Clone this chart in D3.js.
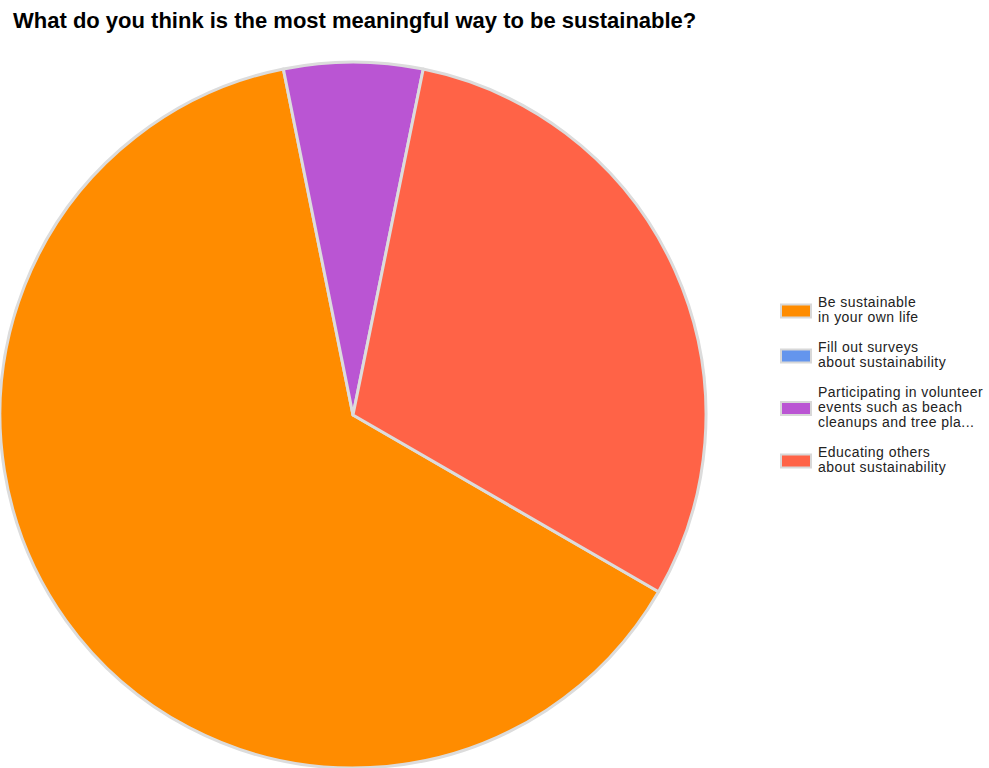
<!DOCTYPE html>
<html>
<head>
<meta charset="utf-8">
<script src="https://cdn.jsdelivr.net/npm/d3@7"></script>
<style>
  body { margin: 0; background: #fff; }
  svg { display: block; font-family: "Liberation Sans", Arial, sans-serif; }
</style>
</head>
<body>
<svg width="989" height="768"></svg>
<script>
var categories = [
  ["Be sustainable", "in your own life"],
  ["Fill out surveys", "about sustainability"],
  ["Participating in volunteer", "events such as beach", "cleanups and tree pla..."],
  ["Educating others", "about sustainability"]
];
var values = [40, 0, 4, 19];
var colors = ["#ff8c00", "#6495ed", "#ba55d3", "#ff6347"];
var title = "What do you think is the most meaningful way to be sustainable?";

var svg = d3.select("svg"),
  cx = 353, cy = 415, radius = 353;

svg.append("text")
  .attr("x", 13)
  .attr("y", 28)
  .attr("font-size", 22)
  .attr("font-weight", "bold")
  .attr("fill", "#000")
  .text(title);

var data = values.map(function(v, i) { return {label: categories[i], value: v, color: colors[i]}; });

// pie starts a bit past 4 o'clock, clockwise
var start = 120.05 * Math.PI / 180;
var pie = d3.pie()
  .sort(null)
  .value(function(d) { return d.value; })
  .startAngle(start)
  .endAngle(start + 2 * Math.PI);

var arc = d3.arc().innerRadius(0).outerRadius(radius);

var g = svg.append("g").attr("transform", "translate(" + cx + "," + cy + ")");

g.selectAll("path")
  .data(pie(data).filter(function(d) { return d.data.value > 0; }))
  .enter().append("path")
    .attr("d", arc)
    .attr("fill", function(d) { return d.data.color; })
    .attr("stroke", "#dcdcdc")
    .attr("stroke-width", 3)
    .attr("stroke-linejoin", "round");

// legend
var legend = svg.append("g").attr("transform", "translate(781,0)");
var y0 = 307, lineH = 15, gap = 15, yy = y0;
data.forEach(function(d) {
  var n = d.label.length;
  var item = legend.append("g");
  var mid = yy - 4 + (n - 1) * lineH / 2;
  item.append("rect")
    .attr("x", 0)
    .attr("y", mid - 6)
    .attr("width", 30)
    .attr("height", 13)
    .attr("fill", d.color)
    .attr("stroke", "#d8d8d8")
    .attr("stroke-width", 2);
  d.label.forEach(function(line, j) {
    item.append("text")
      .attr("x", 37)
      .attr("y", yy + j * lineH)
      .attr("font-size", 14)
      .attr("letter-spacing", 0.45)
      .attr("fill", "#222")
      .text(line);
  });
  yy += n * lineH + gap;
});
</script>
</body>
</html>
